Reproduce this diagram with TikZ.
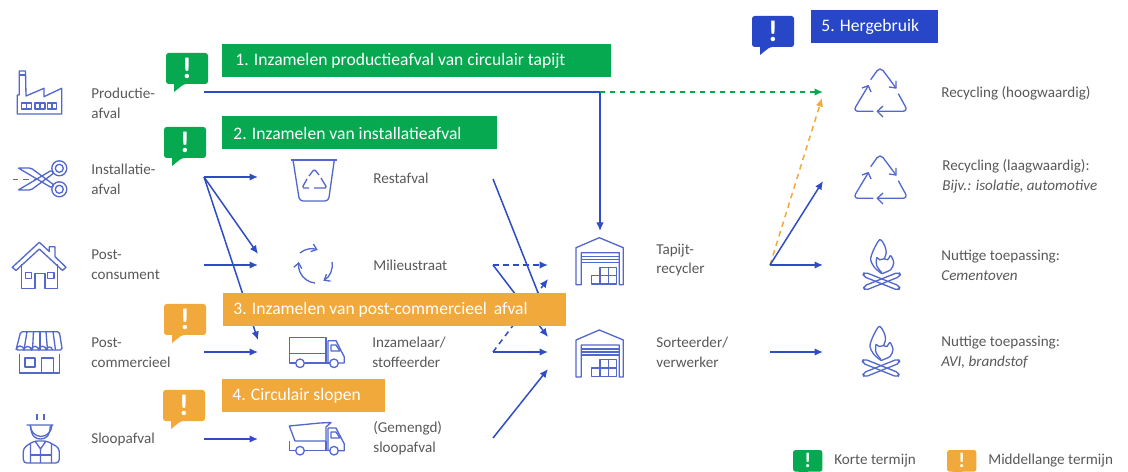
\documentclass[tikz,border=0pt]{standalone}
\usepackage{fontspec}
\setmainfont{Carlito}
\usetikzlibrary{arrows.meta}

\definecolor{groen}{HTML}{06A850}
\definecolor{oranje}{HTML}{F2A93B}
\definecolor{blauw}{HTML}{2746C8}
\definecolor{lijnblauw}{HTML}{2F4CC4}
\definecolor{iconblauw}{HTML}{5268CC}
\definecolor{tekstgrijs}{HTML}{595959}

\tikzset{
	x=0.02cm,y=-0.02cm,
	>={Latex[length=1.7mm,width=1.5mm]},
	label/.style={anchor=west,inner sep=0pt,text=tekstgrijs,align=left,font=\fontsize{8.6}{11.3}\selectfont},
	blok/.style={anchor=west,inner sep=0pt,text=white,font=\fontsize{10}{12}\selectfont},
	stroom/.style={draw=lijnblauw,line width=0.85pt,->},
	stippel/.style={stroom,dash pattern=on 1.1mm off 0.9mm},
	icon/.style={draw=iconblauw,line width=0.75pt,line join=round},
	teken/.style={inner sep=0pt,text=white,transform shape,font=\fontsize{17}{17}\selectfont\bfseries},
	pics/bubbel/.style={code={
		\fill[#1,rounded corners=1.5pt] (0,0) -- (42,0) -- (42,31) -- (18,31) [sharp corners] -- (8,39) -- (8,31) [rounded corners=1.5pt] -- (0,31) -- cycle;
		\node[teken] (-teken) at(21,15){!};
	}},
	pics/recycle/.style={code={
		\draw[icon,rounded corners=3pt] (-9.3,-13.3) -- (0,-26.5) -- (16,-5);
		\draw[icon] (16,-12) -- (16,-5) -- (9,-6);
		\draw[icon,rounded corners=3pt] (-6.7,18.3) -- (-27,18.3) -- (-11.7,-7.3);
		\draw[icon] (-18,-5) -- (-11.7,-7.3) -- (-9,-1);
		\draw[icon,rounded corners=3pt] (18.3,0.7) -- (28,18.3) -- (-2.7,18.3);
		\draw[icon] (3,13) -- (-2.7,18.3) -- (3,24);
	}},
	pics/vuur/.style={code={
		\draw[icon,rounded corners=2pt] (-19.2,9.4) -- (16.8,23.8) -- (18.6,19.6) -- (-17.4,5.2) -- cycle;
		\draw[icon,rounded corners=2pt] (19.2,9.4) -- (-16.8,23.8) -- (-18.6,19.6) -- (17.4,5.2) -- cycle;
		\draw[icon] plot[smooth] coordinates {(0,7) (-7,1) (-11,-7) (-8.5,-16) (-2,-27) (3,-21) (4.5,-14) (2.5,-8)};
		\draw[icon] plot[smooth] coordinates {(2.5,-8) (6,-7) (9,-11) (12,-4) (9,3) (0,7)};
		\draw[icon] plot[smooth] coordinates {(0,6) (-5,-1) (-5,-9) (-2,-7) (2.5,-8)};
	}},
	pics/loods/.style={code={
		\draw[icon] (-23.3,47) -- (-23.3,10) -- (0,0) -- (24,10) -- (24,47) -- (20,47) -- (20,15) -- (-18,15) -- (-18,47) -- cycle;
		\draw[icon] (-18,19) -- (20,19) (-18,22) -- (20,22) (-18,25) -- (20,25);
		\draw[icon] (-7.6,38) rectangle (17.4,46.3);
		\draw[icon] (0.7,29.6) rectangle (17.4,38);
		\draw[icon] (0.7,38) -- (0.7,46.3) (9,29.6) -- (9,46.3);
	}},
}

\begin{document}
\begin{tikzpicture}
	\useasboundingbox[fill=white] (0,0) rectangle (1128,472);

	%eindpunten van de stromen
	\coordinate (productie uit) at(204,92);
	\coordinate (knik) at(600,92);
	\coordinate (recycler in) at(600,231);
	\coordinate (hoogwaardig in) at(823,92);
	\coordinate (hoogwaardig in2) at(822,98);
	\coordinate (installatie uit) at(204,177);
	\coordinate (rest in) at(258,177);
	\coordinate (straat in) at(258,254);
	\coordinate (straat in2) at(258,265);
	\coordinate (inzamelaar in2) at(258,340);
	\coordinate (consument uit) at(204,265);
	\coordinate (commercieel uit) at(204,352);
	\coordinate (inzamelaar in) at(258,352);
	\coordinate (sloop uit) at(204,439);
	\coordinate (sloop in) at(258,439);
	\coordinate (rest uit) at(493,179);
	\coordinate (straat uit) at(493,265);
	\coordinate (inzamelaar uit) at(493,352);
	\coordinate (gemengd uit) at(493,438);
	\coordinate (loods a) at(548,265);
	\coordinate (loods b) at(548,279);
	\coordinate (loods c) at(548,318);
	\coordinate (loods d) at(548,337);
	\coordinate (loods e) at(548,352);
	\coordinate (loods f) at(548,369);
	\coordinate (recycler uit) at(770,265);
	\coordinate (laagwaardig in) at(823,181);
	\coordinate (cement in) at(823,265);
	\coordinate (sorteerder uit) at(770,352);
	\coordinate (avi in) at(823,352);

	%stromen, onder de blokken
	\draw[stroom,-] (productie uit) -- (knik);
	\draw[stroom] (knik) -- (recycler in);
	\draw[stippel,draw=groen,{Latex[length=1.7mm,width=1.5mm]}-,<-] (hoogwaardig in) -- (knik);
	\draw[stroom] (installatie uit) -- (rest in);
	\draw[stroom] (installatie uit) -- (straat in);
	\draw[stroom] (installatie uit) -- (inzamelaar in2);
	\draw[stroom] (consument uit) -- (straat in2);
	\draw[stroom] (commercieel uit) -- (inzamelaar in);
	\draw[stroom] (sloop uit) -- (sloop in);
	\draw[stroom] (rest uit) -- (loods c);
	\draw[stippel] (straat uit) -- (loods a);
	\draw[stroom] (straat uit) -- (loods d);
	\draw[stippel] (inzamelaar uit) -- (loods b);
	\draw[stroom] (inzamelaar uit) -- (loods e);
	\draw[stroom] (gemengd uit) -- (loods f);
	\draw[stippel,draw=oranje] (recycler uit) -- (hoogwaardig in2);
	\draw[stroom] (recycler uit) -- (laagwaardig in);
	\draw[stroom] (recycler uit) -- (cement in);
	\draw[stroom] (sorteerder uit) -- (avi in);

	%blokken
	\fill[groen] (222,44) rectangle (611,77);
	\node[blok] (blok een) at(235,61){1. Inzamelen productieafval van circulair tapijt};
	\fill[groen] (222,116) rectangle (497,149);
	\node[blok] (blok twee) at(233,133){2. Inzamelen van installatieafval};
	\fill[oranje] (223,293) rectangle (566,326);
	\node[blok] (blok drie) at(233,310){3. Inzamelen van post-commercieel\, afval};
	\fill[oranje] (222,379) rectangle (385,412);
	\node[blok] (blok vier) at(232,396){4. Circulair slopen};
	\fill[blauw] (811,10) rectangle (938,43);
	\node[blok] (blok vijf) at(821,27){5. Hergebruik};

	\pic (bubbel een) at(166,53){bubbel=groen};
	\pic (bubbel twee) at(164,127){bubbel=groen};
	\pic (bubbel drie) at(164,304){bubbel=oranje};
	\pic (bubbel vier) at(163,390){bubbel=oranje};
	\pic (bubbel vijf) at(752,16){bubbel=blauw};
	\pic[scale=0.7] (legenda groen) at(793,450){bubbel=groen};
	\pic[scale=0.7] (legenda oranje) at(947,450){bubbel=oranje};

	%teksten links
	\node[label] (productie) at(91,103){Productie-\\afval};
	\node[label] (installatie) at(91,179){Installatie-\\afval};
	\node[label] (consument) at(91,265){Post-\\consument};
	\node[label] (commercieel) at(91,353){Post-\\commercieel};
	\node[label] (sloop) at(91,439){Sloopafval};

	%teksten midden
	\node[label] (rest) at(373,178){Restafval};
	\node[label] (straat) at(373,265){Milieustraat};
	\node[label] (inzamelaar) at(372,352){Inzamelaar/\\stoffeerder};
	\node[label] (gemengd) at(373,438){(Gemengd)\\sloopafval};
	\node[label] (recycler) at(656,260){Tapijt-\\recycler};
	\node[label] (sorteerder) at(656,352){Sorteerder/\\verwerker};

	%teksten rechts
	\node[label] (hoogwaardig) at(941,93){Recycling (hoogwaardig)};
	\node[label] (laagwaardig) at(942,176){Recycling (laagwaardig):\\\textit{Bijv.: isolatie, automotive}};
	\node[label] (cement) at(941,265){Nuttige toepassing:\\\textit{Cementoven}};
	\node[label] (avi) at(941,352){Nuttige toepassing:\\\textit{AVI, brandstof}};
	\node[label] (korte termijn) at(834,461){Korte termijn};
	\node[label] (middellange termijn) at(988,461){Middellange termijn};

	%fabriek
	\draw[icon] (17.3,114) -- (17.3,95) -- (19.3,95) -- (19.3,71) -- (25.5,71) -- (26,96) -- (44,88.3) -- (44,96.7) -- (61.7,88.3) -- (61.7,114) -- cycle;
	\draw[icon] (19.3,75) -- (25.5,75);
	\foreach \xa/\xb in {21.7/31.7,35/45,47.3/56.7}{
		\draw[icon] (\xa,103) rectangle (\xb,109);
		\draw[icon] ({(\xa+\xb)/2},103) -- ({(\xa+\xb)/2},109);
	}

	%schaar
	\draw[icon] (59.3,168.3) circle (7.5) (59.3,168.3) circle (4);
	\draw[icon] (59.3,189.3) circle (7.5) (59.3,189.3) circle (4);
	\draw[icon,rounded corners=1pt] (18.3,168) -- (31,168) -- (54,185) -- (52,188) -- (18.3,168);
	\draw[icon,rounded corners=1pt] (18.3,190) -- (31,190) -- (54,173) -- (52,170) -- (18.3,190);
	\draw[icon,dashed] (12.7,179.3) -- (35,179.3);

	%huis
	\draw[icon] (12.3,267.3) -- (39.3,242.3) -- (49.3,251.5) -- (49.3,246.7) -- (55,246.7) -- (55,256.7) -- (66,267.3) -- (62.5,270.5) -- (39.3,249) -- (16,270.5) -- cycle;
	\draw[icon] (21.7,264) -- (21.7,288.3) -- (35,288.3) -- (35,273.3) -- (45,273.3) -- (45,288.3) -- (57.3,288.3) -- (57.3,264);
	\draw[icon] (25.7,272.3) rectangle (31.7,278.3);
	\draw[icon] (47.3,272.3) rectangle (54,278.3);

	%winkel
	\draw[icon,rounded corners=1pt] (20.7,331.7) -- (59.3,331.7) -- (62.3,350) -- (16,350) -- cycle;
	\foreach \xa/\xb in {27/24,33.5/32.5,40/40,46/47.5,53/55.5}{
		\draw[icon] (\xa,331.7) -- (\xb,350);
	}
	\draw[icon] (16,350) arc (180:360:4.0) arc (180:360:3.6) arc (180:360:3.7) arc (180:360:3.8) arc (180:360:3.1);
	\draw[icon] (19.3,354) -- (19.3,373) -- (59.3,373) -- (59.3,354);
	\draw[icon] (25,358) rectangle (35,367);
	\draw[icon] (41.7,373) -- (41.7,358) -- (53.3,358) -- (53.3,373);

	%sloper
	\draw[icon] (30,424.5) arc (180:0:11 and 12) (26.7,425) -- (53.3,425);
	\draw[icon] (37,414) -- (37,420) (44,414) -- (44,420);
	\draw[icon] (30.7,425.7) .. controls (31,437) and (36,439) .. (40.5,439) .. controls (45,439) and (50,437) .. (50.3,425.7);
	\draw[icon,rounded corners=2pt] (23.3,463) -- (23.3,448) -- (34,441) -- (47,441) -- (59.3,448) -- (59.3,463) -- cycle;
	\draw[icon] (30.5,444) -- (30.5,463) (51.5,444) -- (51.5,463) (35,441) -- (40.5,449) -- (46,441) (40.5,449) -- (40.5,463);
	\draw[icon] (30.5,455) -- (40.5,455) (40.5,455) -- (51.5,455);

	%emmer
	\draw[icon] (290.7,160) -- (337.3,160);
	\draw[icon,rounded corners=2pt] (293,160) -- (299.5,201) -- (328.5,201) -- (334.3,160);
	\draw[icon,rounded corners=1pt] (309,176) -- (314.3,169) -- (319,175) (321,178) -- (327,188) -- (314,188) (309,188) -- (302,188) -- (307,179);

	%cirkelpijlen
	\draw[icon,->,>={Straight Barb[length=1mm,width=1.6mm]}] (300,253) arc (-130:-70:18);
	\draw[icon,->,>={Straight Barb[length=1mm,width=1.6mm]}] (332,262) arc (-10:60:18);
	\draw[icon,->,>={Straight Barb[length=1mm,width=1.6mm]}] (315,283) arc (95:190:18);

	%vrachtwagens
	\draw[icon] (289.3,337.3) rectangle (326,353.3);
	\draw[icon] (289.3,353.3) -- (289.3,363) -- (295.5,363) (304.5,363) -- (329.5,363) (326,353.3) -- (326,363);
	\draw[icon] (328,340.7) -- (336,340.7) -- (344.3,357) -- (344.3,363) -- (338.5,363) (328,340.7) -- (328,363);
	\draw[icon] (331,345) -- (336,345) -- (340,351) -- (331,351) -- cycle;
	\draw[icon] (300,363.3) circle (4.3) (334,363.3) circle (4.3);

	\draw[icon] (289.3,426) -- (320,423) -- (331,422.5) -- (326,427) -- (326,441) -- (295,441) -- cycle;
	\draw[icon] (289.3,441) -- (289.3,450.7) -- (295.5,450.7) (304.5,450.7) -- (329.5,450.7) (326,441) -- (326,450.7);
	\draw[icon] (328,428) -- (336,428) -- (344.3,444) -- (344.3,450.7) -- (338.5,450.7) (328,428) -- (328,450.7);
	\draw[icon] (331,432) -- (336,432) -- (340,438) -- (331,438) -- cycle;
	\draw[icon] (300,450.7) circle (4.3) (334,450.7) circle (4.3);

	%herhaalde iconen
	\pic (loods boven) at(599.3,237.7){loods};
	\pic (loods onder) at(599.3,330){loods};
	\pic (recycle een) at(880,93){recycle};
	\pic (recycle twee) at(880,180){recycle};
	\pic (vuur een) at(881.7,266.7){vuur};
	\pic (vuur twee) at(881,353.5){vuur};
\end{tikzpicture}
\end{document}
